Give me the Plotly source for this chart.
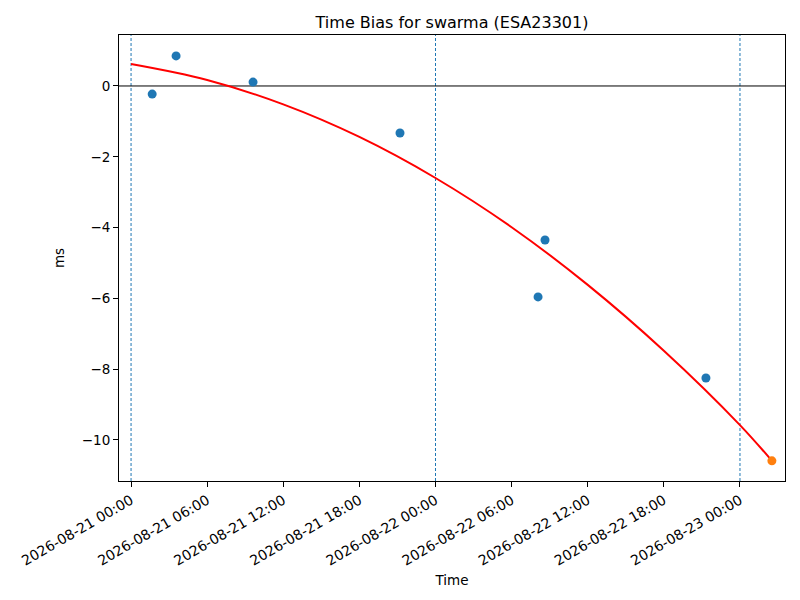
import plotly.graph_objects as go

# measured time bias points
obs_times = ["2026-08-21 01:40", "2026-08-21 03:33", "2026-08-21 09:37", "2026-08-21 21:12",
             "2026-08-22 08:05", "2026-08-22 08:38", "2026-08-22 21:19"]
obs_bias = [-0.23, 0.85, 0.11, -1.33, -5.96, -4.35, -8.25]

# predicted point
pred_time = ["2026-08-23 02:31"]
pred_bias = [-10.59]

# fitted curve
fit_times = ["2026-08-21 00:00", "2026-08-21 06:00", "2026-08-21 12:00", "2026-08-21 18:00",
             "2026-08-22 00:00", "2026-08-22 06:00", "2026-08-22 12:00", "2026-08-22 18:00",
             "2026-08-23 00:00", "2026-08-23 02:31"]
fit_bias = [0.62, 0.17, -0.52, -1.44, -2.60, -3.99, -5.62, -7.48, -9.58, -10.59]

midnights = ["2026-08-21 00:00", "2026-08-22 00:00", "2026-08-23 00:00"]
xticks = ["2026-08-21 00:00", "2026-08-21 06:00", "2026-08-21 12:00", "2026-08-21 18:00",
          "2026-08-22 00:00", "2026-08-22 06:00", "2026-08-22 12:00", "2026-08-22 18:00",
          "2026-08-23 00:00"]
yticks = [0, -2, -4, -6, -8, -10]

fig = go.Figure()
fig.add_trace(go.Scatter(x=fit_times, y=fit_bias, mode="lines", line=dict(color="red", width=2, shape="spline"),
                         showlegend=False))
fig.add_trace(go.Scatter(x=obs_times, y=obs_bias, mode="markers", marker=dict(color="#1f77b4", size=9),
                         showlegend=False))
fig.add_trace(go.Scatter(x=pred_time, y=pred_bias, mode="markers", marker=dict(color="#ff7f0e", size=9),
                         showlegend=False))

for m in midnights:
    fig.add_vline(x=m, line=dict(color="#1f77b4", width=1, dash="3px,2px"), layer="below")
fig.add_hline(y=0, line=dict(color="black", width=1), layer="below")

# the page body adds an 8px offset, so margins are shifted to compensate
fig.update_layout(
    width=800, height=600,
    margin=dict(l=111, r=23, t=27, b=127),
    plot_bgcolor="white", paper_bgcolor="white",
    font=dict(family="DejaVu Sans", size=13, color="black"),
    title=dict(text="Time Bias for swarma (ESA23301)", x=0.5, xref="paper", xanchor="center",
               y=1 - 14 / 600, yanchor="middle", yref="container", font=dict(size=16)),
)
fig.update_xaxes(
    range=["2026-08-20 23:03", "2026-08-23 03:33"],
    tickvals=xticks, tickformat="%Y-%m-%d %H:%M", tickangle=-30, tickfont=dict(size=14),
    ticks="outside", ticklen=5, tickcolor="black", automargin=False,
    showgrid=False, zeroline=False, showline=True, linecolor="black", linewidth=1, mirror=True,
    title=dict(text="Time", standoff=8, font=dict(size=13.5)),
)
fig.update_yaxes(
    range=[-11.16, 1.44],
    tickvals=yticks, ticks="outside", ticklen=5, tickcolor="black", tickfont=dict(size=13.5),
    automargin=False,
    showgrid=False, zeroline=False, showline=True, linecolor="black", linewidth=1, mirror=True,
    title=dict(text="ms", standoff=14, font=dict(size=13.5)),
)

fig.write_html("out.html")
